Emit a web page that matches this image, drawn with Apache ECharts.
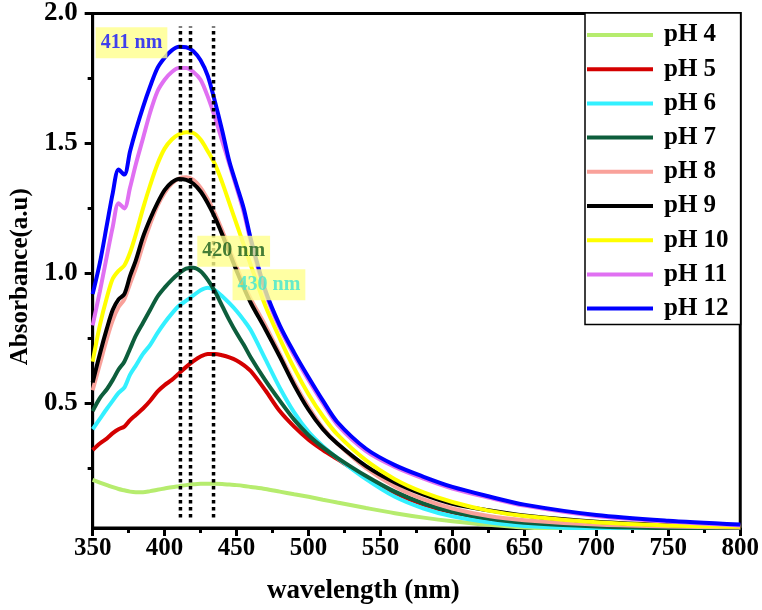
<!DOCTYPE html>
<html>
<head>
<meta charset="utf-8">
<script src="https://cdn.jsdelivr.net/npm/echarts@6/dist/echarts.min.js"></script>
<style>html,body{margin:0;padding:0;background:#fff}#c{width:762px;height:610px}</style>
</head>
<body>
<div id="c"></div>
<script>
const wavelengths = [350,355,360,364,368,372,376,380,385,390,395,400,405,410,415,420,425,430,435,440,445,450,455,460,470,480,490,500,510,520,540,560,580,600,625,650,700,750,800];

const pH4  = [0.205,0.195,0.185,0.177,0.170,0.165,0.160,0.158,0.158,0.162,0.167,0.172,0.177,0.181,0.185,0.188,0.190,0.190,0.190,0.189,0.187,0.185,0.182,0.178,0.170,0.160,0.150,0.140,0.129,0.118,0.097,0.077,0.060,0.046,0.032,0.022,0.010,0.006,0.004];
const pH5  = [0.32,0.345,0.365,0.385,0.40,0.41,0.435,0.455,0.48,0.51,0.545,0.57,0.59,0.615,0.64,0.662,0.68,0.69,0.69,0.685,0.677,0.665,0.647,0.623,0.55,0.47,0.41,0.36,0.32,0.285,0.215,0.155,0.11,0.08,0.056,0.042,0.028,0.021,0.017];
const pH6  = [0.40,0.44,0.48,0.51,0.54,0.56,0.61,0.645,0.69,0.725,0.77,0.81,0.845,0.875,0.895,0.915,0.935,0.945,0.935,0.912,0.885,0.855,0.82,0.78,0.67,0.56,0.465,0.39,0.335,0.29,0.208,0.14,0.095,0.065,0.042,0.028,0.017,0.012,0.01];
const pH7  = [0.47,0.52,0.555,0.59,0.63,0.66,0.71,0.76,0.81,0.86,0.91,0.945,0.975,1.0,1.018,1.022,1.008,0.975,0.93,0.875,0.82,0.77,0.725,0.675,0.588,0.51,0.437,0.377,0.33,0.29,0.22,0.16,0.115,0.082,0.056,0.04,0.026,0.02,0.018];
const pH8  = [0.55,0.65,0.75,0.82,0.87,0.90,0.96,1.02,1.11,1.19,1.26,1.31,1.345,1.365,1.37,1.36,1.33,1.285,1.23,1.165,1.095,1.025,0.96,0.90,0.80,0.69,0.58,0.485,0.405,0.345,0.25,0.18,0.13,0.095,0.066,0.05,0.033,0.026,0.022];
const pH9  = [0.58,0.69,0.79,0.86,0.90,0.92,0.99,1.05,1.14,1.21,1.27,1.32,1.35,1.363,1.36,1.345,1.315,1.27,1.215,1.15,1.08,1.01,0.945,0.885,0.785,0.68,0.57,0.475,0.40,0.345,0.258,0.195,0.148,0.113,0.088,0.068,0.044,0.032,0.027];
const pH10 = [0.66,0.80,0.91,0.98,1.01,1.03,1.08,1.15,1.25,1.34,1.42,1.48,1.515,1.535,1.543,1.54,1.515,1.47,1.42,1.35,1.27,1.19,1.11,1.03,0.875,0.75,0.635,0.535,0.45,0.38,0.28,0.208,0.157,0.12,0.087,0.066,0.042,0.03,0.025];
const pH11 = [0.80,0.93,1.07,1.18,1.27,1.25,1.33,1.42,1.52,1.62,1.70,1.745,1.775,1.79,1.79,1.775,1.745,1.68,1.60,1.51,1.42,1.33,1.235,1.12,0.925,0.79,0.685,0.59,0.50,0.418,0.316,0.255,0.21,0.172,0.137,0.106,0.066,0.045,0.03];
const pH12 = [0.92,1.04,1.19,1.31,1.40,1.38,1.47,1.55,1.64,1.72,1.79,1.83,1.858,1.872,1.87,1.855,1.82,1.76,1.66,1.55,1.43,1.34,1.25,1.13,0.935,0.80,0.695,0.60,0.51,0.428,0.325,0.262,0.217,0.178,0.142,0.11,0.07,0.048,0.033];

const seriesNames = ['pH 4','pH 5','pH 6','pH 7','pH 8','pH 9','pH 10','pH 11','pH 12'];
const seriesValues = [pH4,pH5,pH6,pH7,pH8,pH9,pH10,pH11,pH12];
const seriesColors = ['#b6ec6e','#d40000','#33f0ff','#0d5e3c','#f9a19a','#000000','#ffff00','#e070f2','#0000ff'];

const peakLines = [411, 418, 434];
const peakLineRange = [0.06, 1.95];
const peakLabels = ['411 nm', '420 nm', '430 nm'];
const peakLabelPos = [[377, 1.887], [448, 1.085], [472.5, 0.956]];
const peakLabelColors = ['#1010ff', '#175d1a', '#3ee6d2'];

const xTicks = [350,400,450,500,550,600,650,700,750,800];
const yMajor = [0.5, 1.0, 1.5, 2.0];
const yMinor = [0.25, 0.75, 1.25, 1.75];

const FONT = "'Liberation Serif','Times New Roman',serif";

const chart = echarts.init(document.getElementById('c'), null, {renderer: 'canvas'});

const series = [];
seriesNames.forEach((n, i) => {
  series.push({
    name: n, type: 'line', showSymbol: false, symbol: 'none', smooth: 0.3,
    data: wavelengths.map((w, j) => [w, seriesValues[i][j]]),
    lineStyle: {color: seriesColors[i], width: 4},
    itemStyle: {color: seriesColors[i]},
    clip: true, z: 2 + i
  });
});
peakLines.forEach(x => {
  series.push({
    type: 'line', symbol: 'none', silent: true,
    data: [[x, peakLineRange[0]], [x, peakLineRange[1]]],
    lineStyle: {color: '#000', width: 3.5, type: [3.5, 3.5]}, z: 20
  });
});
peakLabels.forEach((t, i) => {
  series.push({
    type: 'scatter', symbolSize: 0.01, silent: true, z: 30,
    data: [peakLabelPos[i]],
    label: {show: true, position: 'inside', formatter: t, color: peakLabelColors[i],
      fontFamily: FONT, fontWeight: 'bold', fontSize: 20,
      backgroundColor: '#ffff8c', padding: [6, 5, 5, 5]}
  });
});

chart.setOption({
  animation: false,
  backgroundColor: '#fff',
  grid: {left: 91, right: 21, top: 13, bottom: 81, show: true, borderColor: '#000', borderWidth: 3, containLabel: false},
  legend: {
    data: seriesNames, orient: 'vertical', left: 585, top: 13,
    icon: 'rect', itemWidth: 66, itemHeight: 4, itemGap: 8.2,
    padding: [9, 12, 3, 2],
    borderColor: '#000', borderWidth: 1.5, backgroundColor: '#fff',
    textStyle: {fontFamily: FONT, fontWeight: 'bold', fontSize: 25, color: '#000', lineHeight: 26, padding: [0, 0, 0, 6]}
  },
  xAxis: {
    type: 'value', min: 350, max: 800, interval: 50,
    name: 'wavelength (nm)', nameLocation: 'middle', nameGap: 50,
    nameTextStyle: {fontFamily: FONT, fontWeight: 'bold', fontSize: 27, color: '#000', padding: [0, 106, 0, 0]},
    axisLine: {show: true, lineStyle: {color: '#000', width: 3}},
    axisTick: {show: true, length: 8, lineStyle: {color: '#000', width: 3}},
    minorTick: {show: true, splitNumber: 2, length: 5, lineStyle: {color: '#000', width: 3}},
    axisLabel: {fontFamily: FONT, fontWeight: 'bold', fontSize: 25, color: '#000', margin: 8,
      customValues: xTicks},
    splitLine: {show: false}
  },
  yAxis: [{
    type: 'value', min: 0.02, max: 2.0, position: 'left',
    name: 'Absorbance(a.u)', nameLocation: 'middle', nameGap: 58,
    nameTextStyle: {fontFamily: FONT, fontWeight: 'bold', fontSize: 25, color: '#000', padding: [0, 12, 0, 0]},
    axisLine: {show: true, lineStyle: {color: '#000', width: 3}},
    axisTick: {show: true, length: 8, lineStyle: {color: '#000', width: 3}, customValues: yMajor},
    axisLabel: {fontFamily: FONT, fontWeight: 'bold', fontSize: 27, color: '#000', margin: 15,
      customValues: yMajor, formatter: v => v.toFixed(1)},
    splitLine: {show: false}
  }, {
    type: 'value', min: 0.02, max: 2.0, position: 'left', offset: 0,
    axisLine: {show: false},
    axisTick: {show: true, length: 5, lineStyle: {color: '#000', width: 3}, customValues: yMinor},
    axisLabel: {show: false},
    splitLine: {show: false}
  }],
  series: series
});
</script>
</body>
</html>
